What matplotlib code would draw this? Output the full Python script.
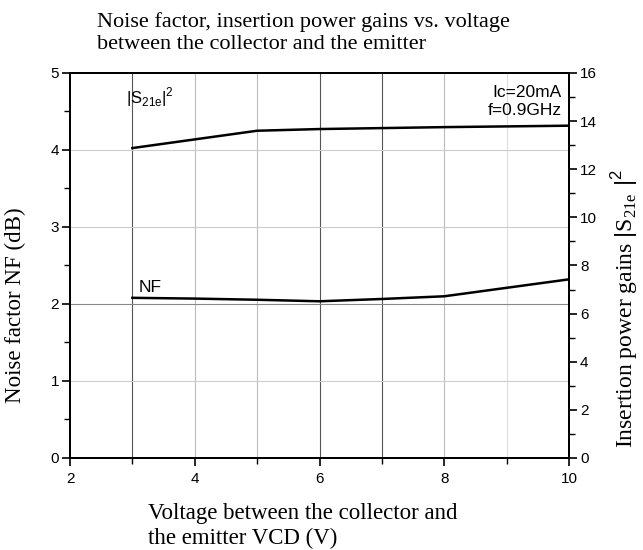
import matplotlib.pyplot as plt
from matplotlib.ticker import MultipleLocator

# data
vce_nf = [3, 4, 5, 6, 7, 8, 10]
nf_db = [2.08, 2.07, 2.055, 2.035, 2.065, 2.10, 2.32]

vce_s21 = [3, 5, 6, 7, 8, 10]
s21_gain = [12.88, 13.6, 13.67, 13.71, 13.75, 13.81]

x_grid = [3, 4, 5, 6, 7, 8, 9]
x_grid_colors = ["#555555", "#bbbbbb", "#bbbbbb", "#555555", "#555555", "#bbbbbb", "#dddddd"]
y_grid = [1, 2, 3, 4]
y_grid_colors = ["#cccccc", "#888888", "#cccccc", "#cccccc"]

serif = "Liberation Serif"
sans = "Liberation Sans"

plt.rcParams["mathtext.fontset"] = "custom"
plt.rcParams["mathtext.rm"] = "Liberation Sans"

fig = plt.figure(figsize=(6.43, 5.5), dpi=100)
ax = fig.add_axes([0.1089, 0.1673, 0.776, 0.70])
ax2 = ax.twinx()

for x, c in zip(x_grid, x_grid_colors):
    ax.axvline(x, color=c, lw=0.8, zorder=0)
for y, c in zip(y_grid, y_grid_colors):
    ax.axhline(y, color=c, lw=0.8, zorder=0)

ax.plot(vce_nf, nf_db, color="black", lw=1.8)
ax2.plot(vce_s21, s21_gain, color="black", lw=1.8)

ax.set_xlim(2, 10)
ax.set_ylim(0, 5)
ax2.set_ylim(0, 16)

ax.xaxis.set_major_locator(MultipleLocator(2))
ax.xaxis.set_minor_locator(MultipleLocator(1))
ax.yaxis.set_major_locator(MultipleLocator(1))
ax.yaxis.set_minor_locator(MultipleLocator(0.5))
ax2.yaxis.set_major_locator(MultipleLocator(2))
ax2.yaxis.set_minor_locator(MultipleLocator(1))

for a in (ax, ax2):
    a.tick_params(which="major", length=6, width=1.2, labelsize=11, colors="black")
    a.tick_params(which="minor", length=4, width=1.0)
    for lab in a.get_xticklabels() + a.get_yticklabels():
        lab.set_fontfamily(sans)
    for s in a.spines.values():
        s.set_linewidth(1.4)
ax.tick_params(axis="x", pad=4)
ax.tick_params(axis="y", pad=2)
ax2.tick_params(axis="y", pad=2)

ax.text(2.9, 4.6, r"$|\mathregular{S}_{\mathregular{21e}}|^2$", fontsize=12, family=sans)
ax.text(3.1, 2.15, "NF", fontsize=12.5, family=sans)
ax.text(9.88, 4.85, "Ic=20mA\nf=0.9GHz", fontsize=12.5, family=sans,
        ha="right", va="top", linespacing=1.25)

fig.text(0.151, 0.978, "Noise factor, insertion power gains vs. voltage\nbetween the collector and the emitter",
         fontsize=16, family=serif, va="top", linespacing=1.2)
fig.text(0.23, 0.085, "Voltage between the collector and\nthe emitter VCD (V)",
         fontsize=16.5, family=serif, va="top", linespacing=1.25)
fig.text(0.024, 0.445, "Noise factor NF (dB)", fontsize=16.5, family=serif,
         rotation=90, ha="center", va="center")
fig.text(0.972, 0.44, r"Insertion power gains $|\mathregular{S}_{\mathregular{21e}}\ |^2$", fontsize=17,
         family=serif, rotation=90, ha="center", va="center")

fig.savefig("out.png", dpi=100)
